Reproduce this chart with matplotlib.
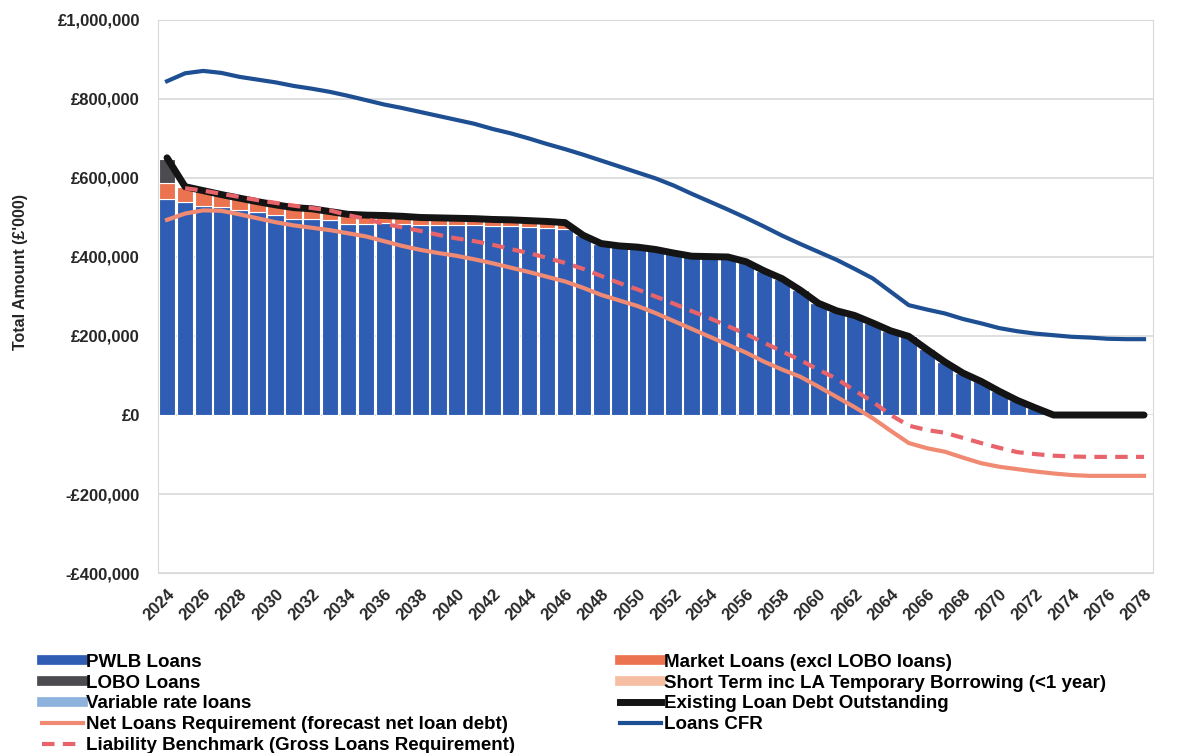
import numpy as np
import matplotlib
matplotlib.use("Agg")
import matplotlib.pyplot as plt
from matplotlib.lines import Line2D
from matplotlib.ticker import FuncFormatter

plt.rcParams['font.family'] = ['Liberation Sans', 'DejaVu Sans']

years = list(range(2024, 2079))

# values in £'000
pwlb = [548, 540, 530, 526, 520, 514, 507, 496, 496, 494, 484, 484, 485, 484, 482, 481, 480, 480, 478, 478,
        476, 474, 471, 455, 434, 428, 425, 419, 410, 402, 401, 400, 388, 365, 345, 316, 283, 264, 252, 233,
        213, 199, 166, 134, 106, 85, 60, 37, 18, 0, 0, 0, 0, 0, 0]
market = [40, 38, 38, 32, 29, 26, 25, 29, 26, 21, 24, 22, 20, 19, 18, 18, 18, 17, 17, 16,
          16, 16, 16, 0, 0, 0, 0, 0, 0, 0, 0, 0, 0, 0, 0, 0, 0, 0, 0, 0,
          0, 0, 0, 0, 0, 0, 0, 0, 0, 0, 0, 0, 0, 0, 0]
lobo = [60] + [0] * 54
short_term = [0] * 55
variable = [0] * 55

existing_debt = [651, 578, 568, 558, 549, 540, 532, 525, 522, 515, 508, 506, 505, 503, 500, 499, 498, 497, 495, 494,
                 492, 490, 487, 455, 434, 428, 425, 419, 410, 402, 401, 400, 388, 365, 345, 316, 283, 264, 252, 233,
                 213, 199, 166, 134, 106, 85, 60, 37, 18, 0, 0, 0, 0, 0, 0]
net_loans = [494, 510, 518, 517, 508, 498, 488, 480, 474, 468, 460, 452, 440, 428, 418, 410, 403, 394, 384, 373,
             362, 350, 338, 322, 304, 290, 276, 258, 238, 218, 198, 178, 158, 135, 115, 97, 72, 46, 20, -8,
             -40, -71, -84, -93, -108, -122, -131, -137, -143, -148, -152, -154, -154, -154, -154]
liability_bm = [np.nan, 574, 568, 560, 552, 544, 537, 530, 524, 518, 506, 496, 484, 475, 466, 456, 447, 440, 431, 420,
                410, 398, 385, 370, 352, 334, 318, 300, 282, 263, 245, 225, 205, 183, 161, 139, 115, 92, 62, 34,
                0, -27, -38, -45, -58, -71, -83, -94, -99, -103, -105, -106, -106, -106, -106]
loans_cfr = [845, 865, 871, 866, 856, 849, 842, 833, 826, 818, 808, 797, 786, 777, 767, 757, 747, 737, 724, 713,
             700, 686, 673, 659, 644, 629, 614, 599, 581, 560, 540, 520, 499, 477, 454, 433, 413, 393, 370, 346,
             312, 278, 267, 257, 243, 232, 220, 212, 206, 202, 198, 196, 193, 192, 192]

c_pwlb = '#2F5DB3'
c_lobo = '#4B4B50'
c_var = '#8DB3DD'
c_market = '#EC7350'
c_short = '#F6BFA4'
c_net = '#F08A72'
c_lb = '#E8646A'
c_exist = '#141414'
c_cfr = '#1E4F92'
c_text = '#262626'

fig = plt.figure(figsize=(11.79, 7.53), dpi=100)
ax = fig.add_axes([0.134, 0.239, 0.844, 0.7345])

x = np.arange(len(years))
k = 1000
pw = np.array(pwlb) * k
mk = np.array(market) * k
lb = np.array(lobo) * k
st = np.array(short_term) * k
vr = np.array(variable) * k

bw = 0.92
ax.bar(x, pw, bw, color=c_pwlb, edgecolor='white', linewidth=0.8, zorder=2)
ax.bar(x, mk, bw, bottom=pw, color=c_market, edgecolor='white', linewidth=0.8, zorder=2)
ax.bar(x, lb, bw, bottom=pw + mk, color=c_lobo, edgecolor='white', linewidth=0.8, zorder=2)
ax.bar(x, st, bw, bottom=pw + mk + lb, color=c_short, linewidth=0, zorder=2)
ax.bar(x, vr, bw, bottom=pw + mk + lb + st, color=c_var, linewidth=0, zorder=2)

ax.plot(x, np.array(net_loans) * k, color=c_net, lw=3, zorder=3)
ax.plot(x, np.array(loans_cfr) * k, color=c_cfr, lw=3, zorder=3)
ax.plot(x, np.array(existing_debt) * k, color=c_exist, lw=5, zorder=4, solid_capstyle='round')
ax.plot(x, np.array(liability_bm) * k, color=c_lb, lw=3, ls=(0, (3, 2)), zorder=5)

ax.set_xlim(-0.5, len(years) - 0.5)
ax.set_ylim(-400000, 1000000)
ax.set_yticks(np.arange(-400000, 1000001, 200000))


def money(v, pos):
    if v == 0:
        return '£0'
    s = '£{:,.0f}'.format(abs(v))
    return '-' + s if v < 0 else s


ax.yaxis.set_major_formatter(FuncFormatter(money))
ax.set_xticks(x[::2])
ax.set_xticklabels([str(y) for y in years[::2]], rotation=45, ha='right', rotation_mode='anchor')
for lab in ax.get_xticklabels() + ax.get_yticklabels():
    lab.set_fontweight('bold')
    lab.set_fontsize(12)
    lab.set_color(c_text)
ax.tick_params(axis='y', length=0, pad=13)
ax.tick_params(axis='x', length=0, pad=10)
ax.grid(axis='y', color='#D9D9D9', lw=1.2, zorder=0)
for sp in ax.spines.values():
    sp.set_color('#D9D9D9')
ax.set_ylabel("Total Amount (£'000)", fontsize=11.5, fontweight='bold', color=c_text)
ax.yaxis.set_label_coords(-0.131, 0.544)

handles = [
    Line2D([], [], color=c_pwlb, lw=7),
    Line2D([], [], color=c_lobo, lw=7),
    Line2D([], [], color=c_var, lw=7),
    Line2D([], [], color=c_net, lw=3),
    Line2D([], [], color=c_lb, lw=3, ls=(0, (3, 2))),
    Line2D([], [], color=c_market, lw=7),
    Line2D([], [], color=c_short, lw=7),
    Line2D([], [], color=c_exist, lw=5),
    Line2D([], [], color=c_cfr, lw=3),
]
labels = ['PWLB Loans', 'LOBO Loans', 'Variable rate loans',
          'Net Loans Requirement (forecast net loan debt)',
          'Liability Benchmark (Gross Loans Requirement)',
          'Market Loans (excl LOBO loans)',
          'Short Term inc LA Temporary Borrowing (<1 year)',
          'Existing Loan Debt Outstanding', 'Loans CFR']
fig.legend(handles, labels, ncol=2, loc='upper left', bbox_to_anchor=(0.0356, 0.132),
           frameon=False, prop={'weight': 'bold', 'size': 13.5}, handlelength=2.2,
           handletextpad=0.15, labelspacing=0.2, columnspacing=5.6, borderaxespad=0, borderpad=0)

fig.savefig('out.png', dpi=100)
